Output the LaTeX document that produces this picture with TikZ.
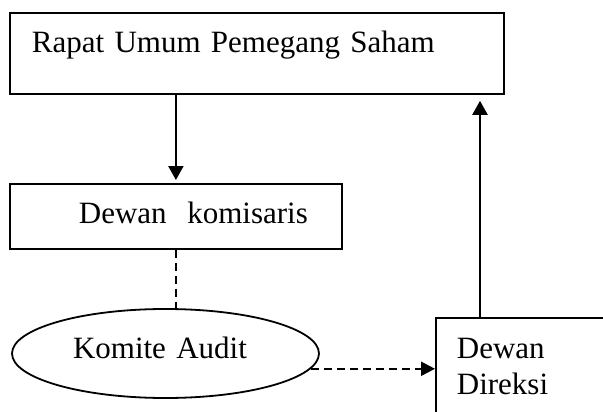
\documentclass[tikz,border=0pt]{standalone}
\usepackage{fontspec}
\setmainfont{Liberation Serif}
\usetikzlibrary{arrows.meta,shapes.geometric}

\begin{document}
\begin{tikzpicture}[x=1pt,y=-1pt,
	every node/.style={font=\fontsize{31}{36}\selectfont},
	box/.style={draw,line width=1.8pt,anchor=north west,align=left,inner xsep=22pt,inner ysep=0pt},
	arr/.style={line width=2.2pt,-{Triangle[length=14pt,width=15pt]}},
	dasharr/.style={line width=2.2pt,dash pattern=on 8pt off 5pt}]
 \clip (0,0) rectangle (603,412);
%	boxes
	\node[box,text width=450pt,text height=40pt,text depth=41pt] (rups) at (9,12)
		{Rapat Umum Pemegang Saham};
	\node[box,text width=288pt,text height=40pt,text depth=25pt] (komisaris) at (9,183)
		{\hspace*{47pt}Dewan\ \ komisaris};
	\node[box,inner xsep=21pt,text width=200pt,text height=41pt,text depth=80pt] (direksi) at (435,317)
		{Dewan\\Direksi};
%	ellipse
	\node[ellipse,draw,line width=1.8pt,minimum width=307pt,minimum height=89pt,inner sep=0pt,
		text width=185pt,align=left,text height=21pt,text depth=11pt] (audit) at (165.5,353.5)
		{Komite Audit};
%	solid arrows
	\draw[arr,shorten >=3pt] (rups.south -| komisaris.north) -- (komisaris.north);
	\draw[arr,shorten >=6pt] ([xshift=45pt]direksi.north west) -- ([xshift=45pt]direksi.north west |- rups.south);
%	dashed lines
	\draw[dasharr] (komisaris.south) -- (audit.north -| komisaris.south);
	\draw[dasharr,-{Triangle[length=14pt,width=14pt]}] (audit.-6) -- (audit.-6 -| direksi.west);
\end{tikzpicture}
\end{document}
